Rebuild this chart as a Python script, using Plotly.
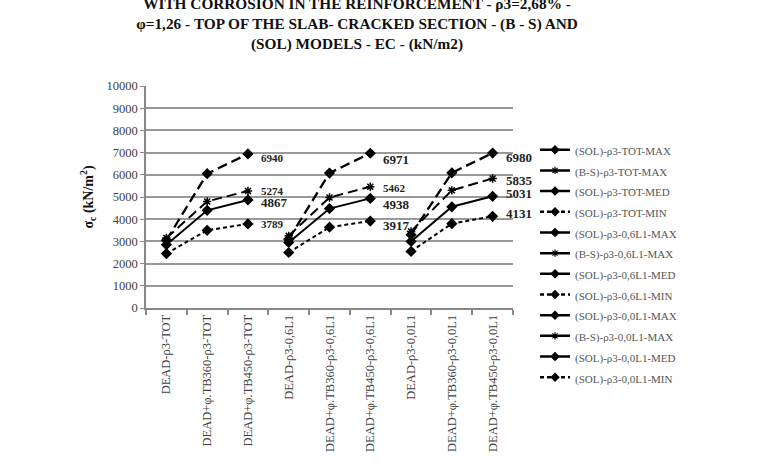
import plotly.graph_objects as go

categories = ["DEAD-ρ3-TOT", "DEAD+φ.TB360-ρ3-TOT", "DEAD+φ.TB450-ρ3-TOT",
              "DEAD-ρ3-0,6L1", "DEAD+φ.TB360-ρ3-0,6L1", "DEAD+φ.TB450-ρ3-0,6L1",
              "DEAD-ρ3-0,0L1", "DEAD+φ.TB360-ρ3-0,0L1", "DEAD+φ.TB450-ρ3-0,0L1"]

series_names = ["(SOL)-ρ3-TOT-MAX", "(B-S)-ρ3-TOT-MAX", "(SOL)-ρ3-TOT-MED", "(SOL)-ρ3-TOT-MIN",
                "(SOL)-ρ3-0,6L1-MAX", "(B-S)-ρ3-0,6L1-MAX", "(SOL)-ρ3-0,6L1-MED", "(SOL)-ρ3-0,6L1-MIN",
                "(SOL)-ρ3-0,0L1-MAX", "(B-S)-ρ3-0,0L1-MAX", "(SOL)-ρ3-0,0L1-MED", "(SOL)-ρ3-0,0L1-MIN"]

sol_tot_max = [3050, 6050, 6940]
bs_tot_max = [3150, 4800, 5274]
sol_tot_med = [2850, 4400, 4867]
sol_tot_min = [2450, 3500, 3789]
sol_06_max = [3100, 6080, 6971]
bs_06_max = [3250, 4980, 5462]
sol_06_med = [2950, 4480, 4938]
sol_06_min = [2500, 3640, 3917]
sol_00_max = [3300, 6090, 6980]
bs_00_max = [3450, 5300, 5835]
sol_00_med = [3000, 4560, 5031]
sol_00_min = [2550, 3800, 4131]

series_values = [sol_tot_max, bs_tot_max, sol_tot_med, sol_tot_min,
                 sol_06_max, bs_06_max, sol_06_med, sol_06_min,
                 sol_00_max, bs_00_max, sol_00_med, sol_00_min]

# style per kind (MAX, B-S MAX, MED, MIN)
kind_styles = [
    dict(dash="10px,5px", symbol="diamond", width=2.3, msize=7, legdash="solid"),
    dict(dash="10px,5px", symbol="asterisk-open", width=2.0, msize=7, legdash="solid"),
    dict(dash="solid", symbol="diamond", width=2.0, msize=7, legdash="solid"),
    dict(dash="4px,3px", symbol="diamond", width=2.0, msize=7, legdash="4px,3px"),
]
label_sizes = [11, 11, 13, 11, 13, 11, 13, 13, 13, 13, 13, 13]
label_yshift = [-4, 0, -3, 0, -6, -1, -6, -4, -4, -2, 3, 3]

serif = "Liberation Serif"
fig = go.Figure()
for i, (name, vals) in enumerate(zip(series_names, series_values)):
    g = i // 4
    st = kind_styles[i % 4]
    xs = categories[g * 3:g * 3 + 3]
    fig.add_trace(go.Scatter(
        x=xs, y=vals, mode="lines+markers", showlegend=False,
        line=dict(color="black", width=st["width"], dash=st["dash"]),
        marker=dict(symbol=st["symbol"], size=st["msize"], color="black",
                    line=dict(color="black", width=1.5)),
    ))
    fig.add_annotation(x=xs[-1], y=vals[-1], text="<b>%d</b>" % vals[-1], showarrow=False,
                       xanchor="left", yanchor="middle", xshift=11, yshift=label_yshift[i],
                       font=dict(family=serif, size=label_sizes[i], color="#222"))

for i, name in enumerate(series_names):
    st = kind_styles[i % 4]
    fig.add_trace(go.Scatter(
        x=[None], y=[None], mode="lines+markers",
        name='<span style="font-size:11px">%s</span>' % name,
        line=dict(color="black", width=2.5, dash=st["legdash"]),
        marker=dict(symbol=st["symbol"], size=6, color="black", line=dict(color="black", width=1.2)),
    ))

fig.update_layout(
    width=758, height=468,
    margin=dict(l=146, r=245, t=86, b=160),
    paper_bgcolor="white", plot_bgcolor="white",
    title=dict(text="<b>WITH CORROSION IN THE REINFORCEMENT - ρ3=2,68% -<br>φ=1,26 - TOP OF THE SLAB- CRACKED SECTION - (B - S) AND<br>(SOL) MODELS - EC - (kN/m2)</b>",
               x=0.471, xanchor="center", y=1 - 9 / 468, yanchor="middle", yref="container",
               font=dict(family=serif, size=15.3, color="#111")),
    font=dict(family=serif, color="#404040"),
    legend=dict(x=1.06, xanchor="left", y=0.782, yanchor="top", maxheight=380,
                font=dict(family=serif, size=13.6, color="#555"),
                bgcolor="rgba(0,0,0,0)", tracegroupgap=0),
    xaxis=dict(type="category", categoryorder="array", categoryarray=categories,
               range=[-0.5, 8.5], tickangle=-90, tickson="boundaries", ticks="outside",
               ticklen=5, tickcolor="#888", tickwidth=1.5,
               showline=True, linecolor="#888", linewidth=1.5, showgrid=False,
               tickfont=dict(family=serif, size=12.5, color="#404040")),
    yaxis=dict(range=[0, 10000], dtick=1000, tickformat="d", showgrid=True, gridcolor="#999", gridwidth=1.5,
               showline=True, linecolor="#888", linewidth=1.5, ticks="outside", ticklen=4,
               tickcolor="#888", zeroline=False,
               tickfont=dict(family=serif, size=12.5, color="#404040"),
               title=dict(text="<b>σ<sub>c</sub> (kN/m<sup>2</sup>)</b>", standoff=10,
                          font=dict(family=serif, size=14, color="#111"))),
)

fig.write_html("out.html")
